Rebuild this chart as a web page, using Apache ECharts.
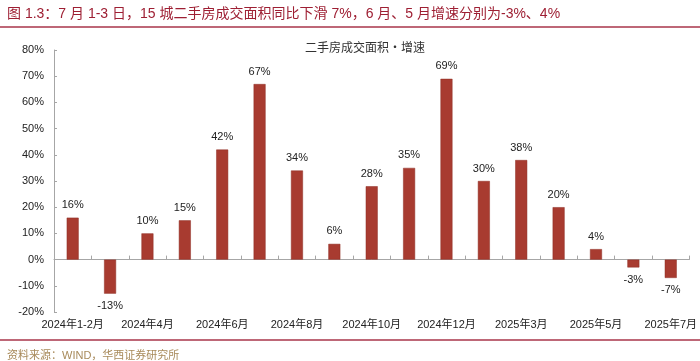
<!DOCTYPE html>
<html><head><meta charset="utf-8">
<script src="https://cdn.jsdelivr.net/npm/echarts@6/dist/echarts.min.js"></script>
<style>html,body{margin:0;padding:0;background:#fff;}#c{width:700px;height:361px;}</style>
</head><body><div id="c"></div>
<script>
const categories = ['2024年1-2月','2024年3月','2024年4月','2024年5月','2024年6月','2024年7月','2024年8月','2024年9月','2024年10月','2024年11月','2024年12月','2025年1-2月','2025年3月','2025年4月','2025年5月','2025年6月','2025年7月'];
const growth = [16, -13, 10, 15, 42, 67, 34, 6, 28, 35, 69, 30, 38, 20, 4, -3, -7];
const yTicks = [-20, 80, 10];
const titleText = '图 1.3：7 月 1-3 日，15 城二手房成交面积同比下滑 7%，6 月、5 月增速分别为-3%、4%';
const subTitle = '二手房成交面积·增速';
const sourceText = '资料来源：WIND，华西证券研究所';

const chart = echarts.init(document.getElementById('c'), null, {renderer:'canvas'});
const font = 'Liberation Sans, Arial, Noto Sans CJK SC, sans-serif';
chart.setOption({
  animation:false,
  backgroundColor:'#fff',
  title:[
    {text:titleText, left:2, top:2, textStyle:{fontSize:14, fontWeight:'normal', color:'#9E1F33', fontFamily:font}},
    {text:subTitle, left:360, textAlign:'center', top:36, textStyle:{fontSize:12, fontWeight:'normal', color:'#333', fontFamily:'Noto Sans CJK SC'}},
    {text:sourceText, left:2, top:345, textStyle:{fontSize:11, fontWeight:'normal', color:'#A88A5A', fontFamily:font}}
  ],
  graphic:[
    {type:'line', shape:{x1:0,y1:27,x2:700,y2:27}, style:{stroke:'#A8354A', lineWidth:1.5}},
    {type:'line', shape:{x1:0,y1:340,x2:700,y2:340}, style:{stroke:'#A8354A', lineWidth:1.5}}
  ],
  grid:{left:54, right:9, top:50, bottom:49, containLabel:false},
  xAxis:[{
    type:'category', data:categories,
    axisLine:{onZero:true, lineStyle:{color:'#A6A6A6'}},
    axisTick:{show:true, inside:true, length:4, interval:0, lineStyle:{color:'#A6A6A6'}},
    axisLabel:{show:false}
  },{
    type:'category', data:categories, position:'bottom',
    axisLine:{show:false, onZero:false},
    axisTick:{show:false},
    axisLabel:{interval:1, color:'#222', fontSize:11, fontFamily:font, margin:7}
  }],
  yAxis:{
    type:'value', min:yTicks[0], max:yTicks[1], interval:yTicks[2],
    axisLine:{show:true, lineStyle:{color:'#A6A6A6'}},
    axisTick:{show:true, inside:true, length:3, lineStyle:{color:'#A6A6A6'}},
    splitLine:{show:false},
    axisLabel:{color:'#222', fontSize:11, fontFamily:font, margin:10, formatter:v=>v+'%'}
  },
  series:[{
    type:'bar', barWidth:'32%', xAxisIndex:0,
    data:growth.map(v=>({value:v, label:{position: v<0?'bottom':'top'}})),
    itemStyle:{color:'#A83B30', borderColor:'#8E2E25', borderWidth:0.5},
    label:{show:true, distance:7, color:'#222', fontSize:11, fontFamily:font, formatter:p=>p.value+'%'}
  }]
});
</script></body></html>
